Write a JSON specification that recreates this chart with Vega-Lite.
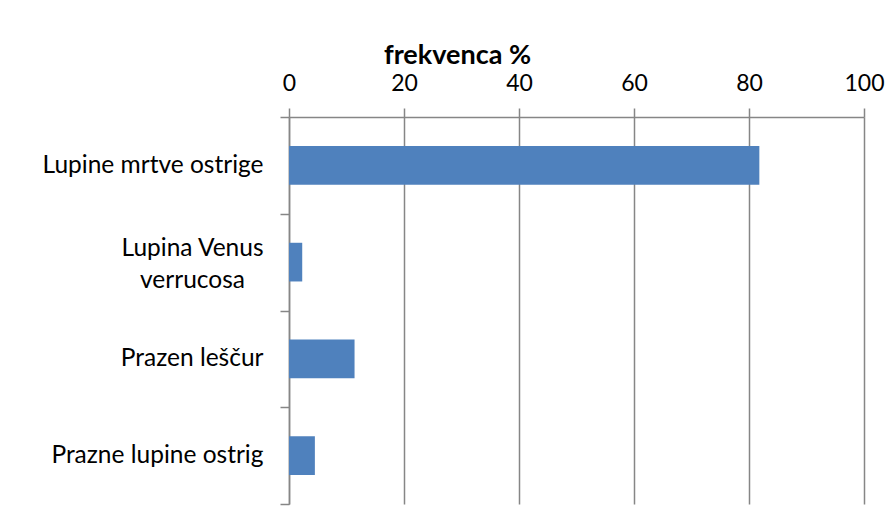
{
  "$schema": "https://vega.github.io/schema/vega-lite/v6.json",
  "width": 575,
  "height": 387,
  "autosize": {"type": "none"},
  "padding": {"left": 289, "top": 117, "right": 30, "bottom": 21},
  "background": "white",
  "data": {
    "values": [
      {"kategorija": "Lupine mrtve ostrige", "frekvenca": 81.8},
      {"kategorija": "Lupina Venus verrucosa", "frekvenca": 2.3},
      {"kategorija": "Prazen leščur", "frekvenca": 11.4},
      {"kategorija": "Prazne lupine ostrig", "frekvenca": 4.5}
    ]
  },
  "mark": {"type": "bar", "color": "#4F81BD", "height": {"band": 0.4}},
  "encoding": {
    "y": {
      "field": "kategorija",
      "type": "nominal",
      "sort": null,
      "scale": {"paddingInner": 0, "paddingOuter": 0},
      "axis": {
        "title": null,
        "orient": "left",
        "domain": true,
        "domainColor": "#868686",
        "domainWidth": 1.5,
        "ticks": true,
        "tickBand": "extent",
        "tickColor": "#868686",
        "tickWidth": 1.5,
        "tickSize": 9,
        "grid": false,
        "labelFont": "Lato",
        "labelFontSize": 24.5,
        "labelColor": "#000000",
        "labelPadding": {"condition": {"test": "datum.value == 'Lupina Venus verrucosa'", "value": 88}, "value": 17},
        "labelAlign": {"condition": {"test": "datum.value == 'Lupina Venus verrucosa'", "value": "center"}, "value": "right"},
        "labelLineHeight": 32,
        "labelLimit": 400,
        "labelOffset": {"condition": {"test": "datum.value == 'Lupina Venus verrucosa'", "value": -14}, "value": 0},
        "labelExpr": "datum.label == 'Lupina Venus verrucosa' ? ['Lupina Venus', 'verrucosa'] : datum.label"
      }
    },
    "x": {
      "field": "frekvenca",
      "type": "quantitative",
      "scale": {"domain": [0, 100], "nice": false},
      "axis": {
        "orient": "top",
        "values": [0, 20, 40, 60, 80, 100],
        "title": "frekvenca %",
        "titleFont": "Lato",
        "titleFontSize": 27,
        "titleFontWeight": "bold",
        "titleColor": "#000000",
        "titleX": 168,
        "titleY": -54,
        "titleAlign": "center",
        "titleBaseline": "alphabetic",
        "domain": true,
        "domainColor": "#868686",
        "domainWidth": 1.5,
        "ticks": true,
        "tickColor": "#868686",
        "tickWidth": 1.5,
        "tickSize": 9,
        "grid": true,
        "gridColor": "#868686",
        "gridWidth": 1.5,
        "gridOpacity": 1,
        "labelFont": "Lato",
        "labelFontSize": 23,
        "labelColor": "#000000",
        "labelPadding": 13,
        "labelFlush": false
      }
    }
  },
  "config": {"view": {"stroke": null}, "font": "Lato"}
}
